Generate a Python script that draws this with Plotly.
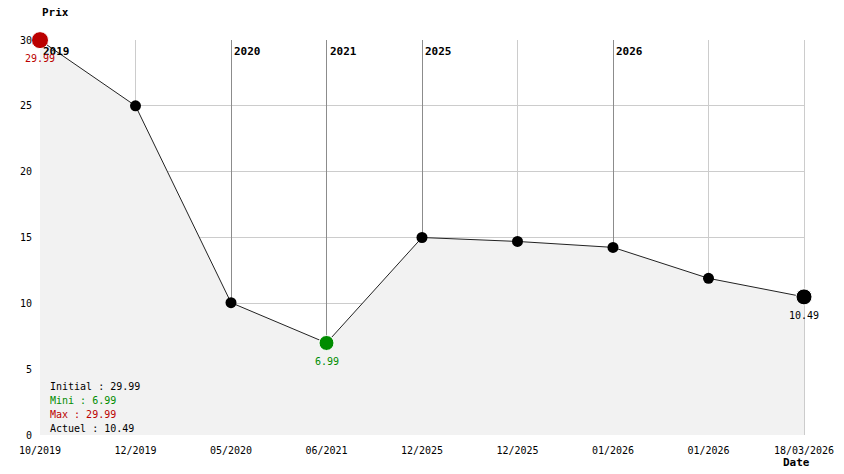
import plotly.graph_objects as go

# data
dates = ['10/2019', '12/2019', '05/2020', '06/2021', '12/2025',
         '12/2025', '01/2026', '01/2026', '18/03/2026']
prices = [29.99, 25.0, 10.05, 6.99, 15.0, 14.7, 14.25, 11.9, 10.49]
year_marks = [0, 2, 3, 4, 6]
year_labels = ['2019', '2020', '2021', '2025', '2026']
y_ticks = [0, 5, 10, 15, 20, 25, 30]

FONT = 'DejaVu Sans Mono'
FS = 10
idx = list(range(len(dates)))
i_max = prices.index(max(prices))
i_min = prices.index(min(prices))
i_last = len(prices) - 1

fig = go.Figure()

# invisible traces so the grid-only overlay axes get drawn
for ax, ay in (('x2', 'y'), ('x3', 'y'), ('x', 'y2')):
    fig.add_trace(go.Scatter(x=[idx[0]], y=[prices[0]], xaxis=ax, yaxis=ay, mode='markers',
                             marker=dict(opacity=0), hoverinfo='skip', showlegend=False))

# shaded area + line
fig.add_trace(go.Scatter(
    x=idx, y=prices, mode='lines',
    line=dict(color='#222222', width=1),
    fill='tozeroy', fillcolor='#f2f2f2',
    hoverinfo='skip', showlegend=False
))

# normal points
normal = [i for i in idx if i not in (i_max, i_min, i_last)]
fig.add_trace(go.Scatter(
    x=normal, y=[prices[i] for i in normal], mode='markers',
    marker=dict(color='black', size=11, opacity=1),
    showlegend=False, cliponaxis=False
))

# highlighted points
fig.add_trace(go.Scatter(
    x=[i_max, i_min, i_last],
    y=[prices[i_max], prices[i_min], prices[i_last]],
    mode='markers',
    marker=dict(color=['#bb0000', '#008c00', 'black'], size=[17, 15, 16], opacity=1),
    showlegend=False, cliponaxis=False
))

# year labels (separator lines come from xaxis3 grid)
for k, lab in zip(year_marks, year_labels):
    fig.add_annotation(x=k, y=30, xref='x', yref='y', text='<b>%s</b>' % lab,
                       showarrow=False, xanchor='left', yanchor='top',
                       xshift=1, yshift=-3, font=dict(family=FONT, size=FS + 1, color='black'))

# point value labels
for i, col in [(i_max, '#bb0000'), (i_min, '#008c00'), (i_last, 'black')]:
    fig.add_annotation(x=i, y=prices[i], xref='x', yref='y', text='%.2f' % prices[i],
                       showarrow=False, yanchor='top', yshift=-11,
                       font=dict(family=FONT, size=FS, color=col))

# summary text (bottom-left of the plot)
summary = [
    ('Initial : %.2f' % prices[0], 'black'),
    ('Mini : %.2f' % prices[i_min], '#008c00'),
    ('Max : %.2f' % prices[i_max], '#bb0000'),
    ('Actuel : %.2f' % prices[i_last], 'black'),
]
for n, (txt, col) in enumerate(summary):
    fig.add_annotation(x=0, y=0, xref='paper', yref='paper', text=txt,
                       showarrow=False, xanchor='left', yanchor='middle',
                       xshift=8, yshift=49 - 14 * n,
                       font=dict(family=FONT, size=FS, color=col))

# axis titles
fig.add_annotation(x=0, y=1, xref='paper', yref='paper', text='<b>Prix</b>',
                   showarrow=False, xanchor='left', yanchor='bottom', yshift=19,
                   font=dict(family=FONT, size=FS + 1, color='black'))
fig.add_annotation(x=1, y=0, xref='paper', yref='paper', text='<b>Date</b>',
                   showarrow=False, xanchor='right', yanchor='top', yshift=-19, xshift=8,
                   font=dict(family=FONT, size=FS + 1, color='black'))

xr = [0, len(dates) - 1]
plain = [i for i in idx if i not in year_marks]
overlay = dict(range=xr, overlaying='x', anchor='y', showticklabels=False,
               automargin=False, zeroline=False, showline=False, ticks='',
               fixedrange=True, showgrid=True, gridwidth=1)

# page body has an 8px margin, so the figure is sized to fit the window
fig.update_layout(
    width=828, height=458,
    margin=dict(l=32, r=32, t=32, b=31),
    paper_bgcolor='white', plot_bgcolor='white',
    font=dict(family=FONT, size=FS, color='black'),
    xaxis=dict(range=xr, tickvals=idx, ticktext=dates,
               showgrid=False, automargin=False,
               zeroline=False, showline=False, ticks='', fixedrange=True,
               ticklabelstandoff=8),
    xaxis2=dict(tickvals=plain, gridcolor='#cccccc', **overlay),
    xaxis3=dict(tickvals=year_marks[1:], gridcolor='#8c8c8c', **overlay),
    yaxis=dict(range=[0, 30], tickvals=y_ticks, automargin=False,
               showgrid=True, gridcolor='#cccccc', gridwidth=1,
               zeroline=False, showline=False, ticks='', fixedrange=True,
               ticklabelstandoff=7),
    # right frame edge, kept under the filled area
    yaxis2=dict(range=[0, 30], overlaying='y', side='right', anchor='x',
                showticklabels=False, showgrid=False, zeroline=False, ticks='',
                showline=True, linecolor='#cccccc', linewidth=1,
                layer='below traces', automargin=False, fixedrange=True),
    hovermode=False,
)

fig.write_html('out.html')
